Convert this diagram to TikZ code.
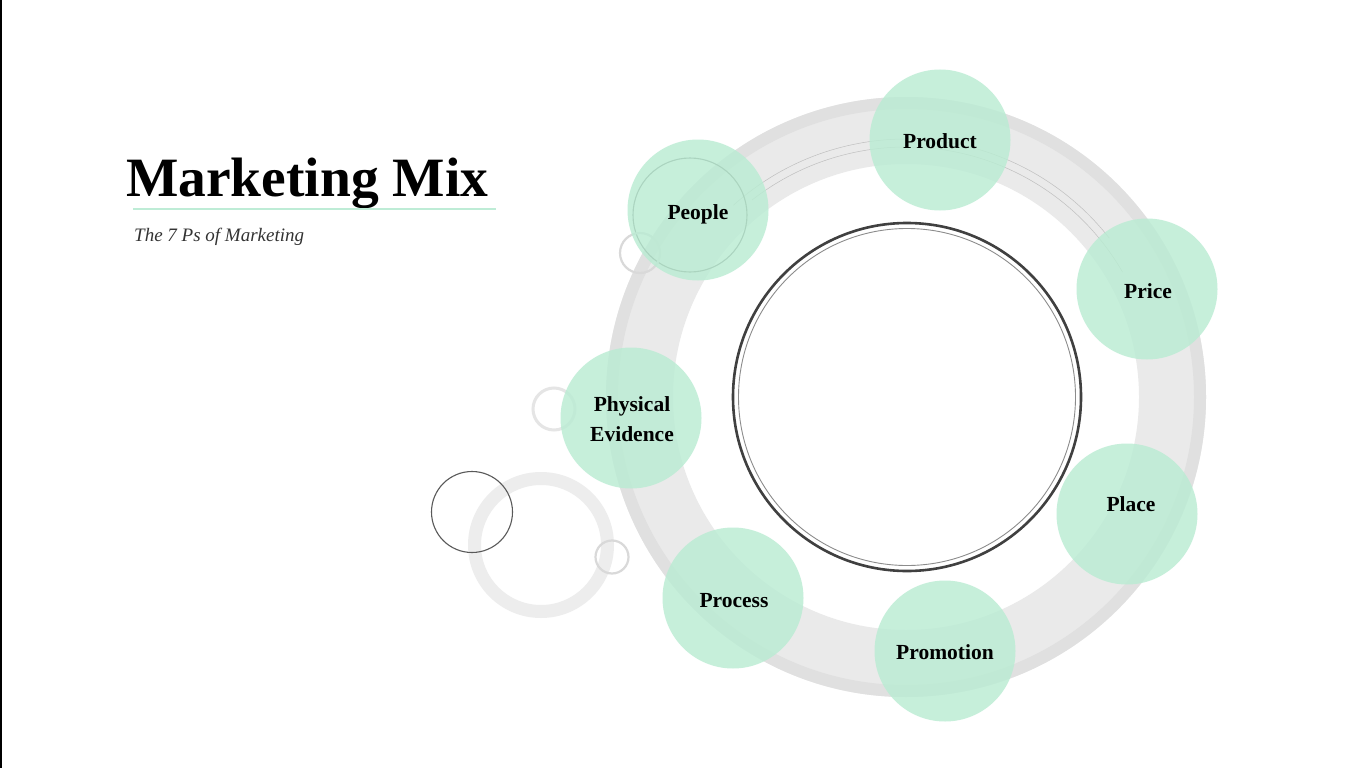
\documentclass[tikz,border=0pt]{standalone}
\usepackage{fontspec}
\setmainfont{Liberation Serif}
\definecolor{mint}{RGB}{186,236,211}
\definecolor{mintline}{RGB}{190,236,214}
\definecolor{ringgray}{RGB}{234,234,234}
\definecolor{ringedge}{RGB}{224,224,224}
\begin{document}
\begin{tikzpicture}[x=1pt,y=-1pt,
  pcirc/.style={circle, fill=mint, fill opacity=0.82, draw=none, minimum size=141pt, inner sep=0pt},
  plabel/.style={font=\bfseries\fontsize{21.5}{30}\selectfont, text=black, align=center},
  decolight/.style={draw=black!15, line width=2.2pt},
  decodark/.style={draw=black!65, line width=1.1pt}
]
\useasboundingbox (0,0) rectangle (1366,768);
\fill[white] (0,0) rectangle (1366,768);
\draw[black, line width=2pt] (0.8,0) -- (0.8,768);

% big textured ring
\fill[ringgray, even odd rule] (906,397) circle (300) (906,397) circle (233);
\fill[ringedge, even odd rule] (906,397) circle (300) (906,397) circle (288);
\draw[black!25, line width=0.5pt] (906,397) ++(-132:258) arc (-132:-38:258);
\draw[black!25, line width=0.5pt] (906,397) ++(-128:250) arc (-128:-30:250);

% inner double circle
\draw[black!75, line width=2.6pt] (907,397) circle (174);
\draw[black!45, line width=0.9pt] (907,397) circle (168.5);

% decorative circles
\draw[decodark, draw opacity=0.9] (690,215) circle (57);
\draw[decolight] (640,253) circle (20);
\draw[decolight, draw=black!10, line width=3pt] (554,409) circle (21);
\fill[black!7, even odd rule] (541,545) circle (73) (541,545) circle (60);
\draw[decodark] (472,512) circle (40.5);
\draw[decolight] (612,557) circle (16.5);

% green circles
\node[pcirc] (cproduct) at (940,140) {};
\node[pcirc] (cprice) at (1147,289) {};
\node[pcirc] (cplace) at (1127,514) {};
\node[pcirc] (cpromotion) at (945,651) {};
\node[pcirc] (cprocess) at (733,598) {};
\node[pcirc] (cphysical) at (631,418) {};
\node[pcirc] (cpeople) at (698,210) {};

% labels
\node[plabel] (tproduct) at (940,141) {Product};
\node[plabel] (tprice) at (1148,291) {Price};
\node[plabel] (tplace) at (1131,504) {Place};
\node[plabel] (tpromotion) at (945,652) {Promotion};
\node[plabel] (tprocess) at (734,601) {Process};
\node[plabel] (tphysical) at (632,419) {Physical\\Evidence};
\node[plabel] (tpeople) at (698,214) {People};

% title
\node[anchor=base west, inner sep=0pt, font=\bfseries\fontsize{55.5}{55.5}\selectfont] (title) at (126,196) {Marketing Mix};
\draw[mintline, line width=2pt] (133,209) -- (496,209);
\node[anchor=base west, inner sep=0pt, text=black!80, font=\itshape\fontsize{19}{19}\selectfont] (subtitle) at (134,241) {The 7 Ps of Marketing};
\end{tikzpicture}
\end{document}
